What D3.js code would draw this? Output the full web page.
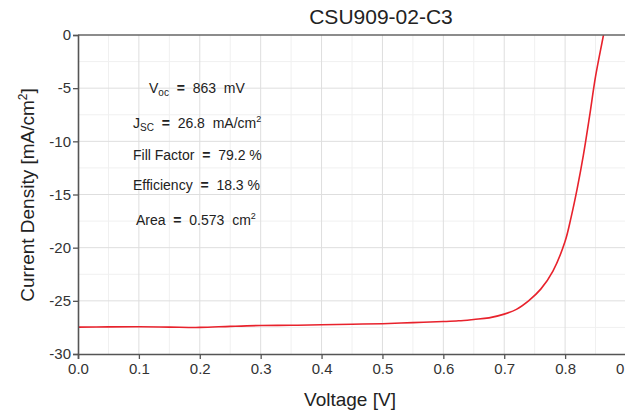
<!DOCTYPE html>
<html>
<head>
<meta charset="utf-8">
<script src="https://cdn.jsdelivr.net/npm/d3@7"></script>
<style>
  body { margin: 0; background: #fff; }
  svg { display: block; font-family: "Liberation Sans", Arial, sans-serif; }
</style>
</head>
<body>
<svg></svg>
<script>
// ====== data ====== //
const voltage = [0, 0.05, 0.1, 0.15, 0.2, 0.25, 0.3, 0.35, 0.4, 0.45, 0.5, 0.55, 0.6, 0.625, 0.65, 0.675,
                 0.7, 0.72, 0.74, 0.76, 0.78, 0.8, 0.81, 0.82, 0.83, 0.84, 0.85, 0.863, 0.87];
const current = [-27.47, -27.45, -27.44, -27.47, -27.5, -27.4, -27.32, -27.3, -27.25, -27.2, -27.15, -27.05, -26.95, -26.88, -26.75, -26.6,
                 -26.25, -25.8, -25.0, -23.9, -22.2, -19.4, -17.1, -14.4, -11.3, -7.7, -3.9, 0, 2.2];
const xTicks = [0, 0.1, 0.2, 0.3, 0.4, 0.5, 0.6, 0.7, 0.8, 0.9];
const yTicks = [0, -5, -10, -15, -20, -25, -30];
const title = "CSU909-02-C3";
const stats = [
  { label: "V", sub: "oc", value: "863  mV", sup: null },
  { label: "J", sub: "SC", value: "26.8  mA/cm", sup: "2" },
  { label: "Fill Factor", sub: null, value: "79.2 %", sup: null },
  { label: "Efficiency", sub: null, value: "18.3 %", sup: null },
  { label: "Area", sub: null, value: "0.573  cm", sup: "2" }
];

// ====== layout ====== //
const width = 625, height = 413;
const margin = { top: 35, right: -1, bottom: 59, left: 78 };

const svg = d3.select('svg')
    .attr('width', width)
    .attr('height', height);

const x = d3.scaleLinear().domain([0, 0.9]).range([margin.left, width - margin.right]);
const y = d3.scaleLinear().domain([-30, 0]).range([height - margin.bottom, margin.top]);

// grid, minor then major
const minorX = d3.range(0.05, 0.9, 0.1);
const minorY = d3.range(-27.5, 0, 5);
svg.append("g").selectAll("line").data(minorX).join("line")
    .attr("x1", d => x(d)).attr("x2", d => x(d))
    .attr("y1", y(0)).attr("y2", y(-30))
    .attr("stroke", "#f0f0f0");
svg.append("g").selectAll("line").data(minorY).join("line")
    .attr("x1", x(0)).attr("x2", x(0.9))
    .attr("y1", d => y(d)).attr("y2", d => y(d))
    .attr("stroke", "#f0f0f0");
svg.append("g").selectAll("line").data(xTicks.slice(1)).join("line")
    .attr("x1", d => x(d)).attr("x2", d => x(d))
    .attr("y1", y(0)).attr("y2", y(-30))
    .attr("stroke", "#dedede");
svg.append("g").selectAll("line").data(yTicks.slice(1, -1)).join("line")
    .attr("x1", x(0)).attr("x2", x(0.9))
    .attr("y1", d => y(d)).attr("y2", d => y(d))
    .attr("stroke", "#dedede");

// curve (clipped to plot)
svg.append("clipPath").attr("id", "plot")
  .append("rect")
    .attr("x", x(0)).attr("y", y(0))
    .attr("width", x(0.9) - x(0)).attr("height", y(-30) - y(0));

const points = voltage.map((v, i) => [v, current[i]]);
const line = d3.line().x(d => x(d[0])).y(d => y(d[1])).curve(d3.curveCatmullRom.alpha(0.5));
svg.append("path")
    .datum(points)
    .attr("clip-path", "url(#plot)")
    .attr("d", line)
    .attr("fill", "none")
    .attr("stroke", "#e8222c")
    .attr("stroke-width", 1.6);

// top border
svg.append("line")
    .attr("x1", x(0)).attr("x2", x(0.9))
    .attr("y1", y(0)).attr("y2", y(0))
    .attr("stroke", "#666").attr("stroke-width", 1.5);

// axes
const xAxis = svg.append("g")
    .attr("transform", `translate(0,${y(-30)})`)
    .call(d3.axisBottom(x).tickValues(xTicks).tickFormat(d3.format(".1f")).tickSize(5).tickPadding(4));
const yAxis = svg.append("g")
    .attr("transform", `translate(${x(0)},0)`)
    .call(d3.axisLeft(y).tickValues(yTicks).tickFormat(d => d).tickSize(5).tickPadding(2));

[xAxis, yAxis].forEach(a => {
  a.select(".domain").attr("stroke", "#555").attr("stroke-width", 1.6);
  a.selectAll(".tick line").attr("stroke", "#555").attr("stroke-width", 1.3);
  a.selectAll(".tick text").attr("fill", "#333").style("font-size", "15px");
});

// title and axis labels
svg.append("text")
    .attr("x", 381).attr("y", 24)
    .attr("text-anchor", "middle")
    .attr("fill", "#222")
    .style("font-size", "21px")
    .text(title);

svg.append("text")
    .attr("x", 350).attr("y", 406)
    .attr("text-anchor", "middle")
    .attr("fill", "#222")
    .style("font-size", "19px")
    .text("Voltage [V]");

const yl = svg.append("text")
    .attr("transform", "translate(34,195) rotate(-90)")
    .attr("text-anchor", "middle")
    .attr("fill", "#222")
    .style("font-size", "19px");
yl.append("tspan").text("Current Density [mA/cm");
yl.append("tspan").attr("dy", -7).style("font-size", "12px").text("2");
yl.append("tspan").attr("dy", 7).text("]");

// stats box
const statY = [93, 128, 160, 190, 225];
const statX = [149, 133, 133, 133, 136];
stats.forEach((s, i) => {
  const t = svg.append("text")
      .attr("x", statX[i]).attr("y", statY[i])
      .attr("fill", "#222")
      .style("white-space", "pre")
      .style("font-size", "14px");
  t.append("tspan").text(s.label);
  if (s.sub) t.append("tspan").attr("dy", 3).style("font-size", "10px").text(s.sub);
  t.append("tspan").attr("dy", s.sub ? -3 : 0).style("font-weight", "bold").text("  =  ");
  t.append("tspan").text(s.value);
  if (s.sup) {
    t.append("tspan").attr("dy", -6).style("font-size", "9px").text(s.sup);
  }
});
</script>
</body>
</html>
